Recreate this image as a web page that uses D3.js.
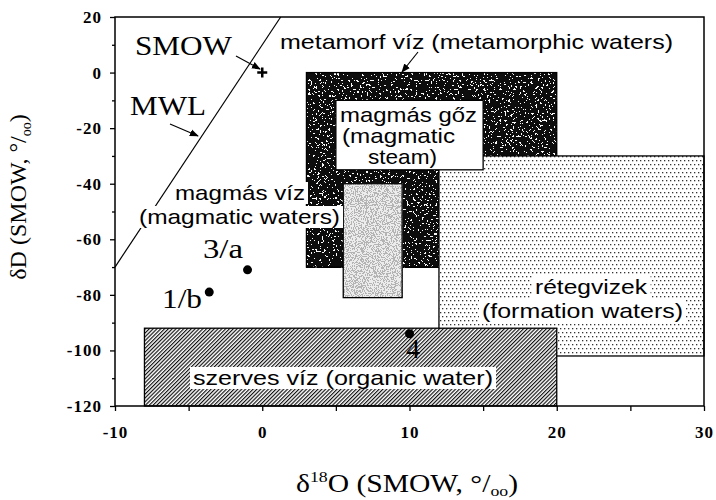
<!DOCTYPE html>
<html><head><meta charset="utf-8">
<script src="https://cdn.jsdelivr.net/npm/d3@7"></script>
<style>body{margin:0;background:#fff}</style>
</head><body>
<svg id="c" width="716" height="500" xmlns="http://www.w3.org/2000/svg"></svg>
<script>
// ---------- data ----------
const boxNames = ["metamorphic", "formation", "organic", "magmaticWater", "magmaticSteam"];
const boxX0 = [3, 12, -8, 5.5, 5];
const boxX1 = [20, 30, 20, 9.5, 15];
const boxY0 = [-70, -102, -120, -81, -35];
const boxY1 = [0, -30, -92, -40, -10];

const mwlX = [-10, 1.25];
const mwlY = [-70, 20];

const smowX = [0];
const smowY = [0];

const ptX = [-1, -3.6, 10];
const ptY = [-71, -79, -94];
const ptLabels = ["3/a", "1/b", "4"];

const xTicks = [-10, 0, 10, 20, 30];
const xTickLabels = ["-10", "0", "10", "20", "30"];
const xMinorTicks = [-5, 5, 15, 25];
const yTicks = [20, 0, -20, -40, -60, -80, -100, -120];
const yTickLabels = ["20", "0", "-20", "-40", "-60", "-80", "-100", "-120"];
const yMinorTicks = [10, -10, -30, -50, -70, -90, -110];

const sansLabels = ["metamorf víz (metamorphic waters)", "magmás gőz", "(magmatic", "steam)",
  "magmás víz", "(magmatic waters)", "rétegvizek", "(formation waters)", "szerves víz (organic water)"];
const serifLabels = ["SMOW", "MWL"];

// ---------- layout ----------
const svg = d3.select("#c");
const x = d3.scaleLinear().domain([-10, 30]).range([115, 704]);
const y = d3.scaleLinear().domain([-120, 20]).range([406, 17]);
const SERIF = "'Liberation Serif','Times New Roman',serif";
const SANS = "'Liberation Sans',Arial,Helvetica,sans-serif";

const defs = svg.append("defs");
// dark speckled texture
defs.append("filter").attr("id", "fDark").attr("x", 0).attr("y", 0).attr("width", 1).attr("height", 1)
  .html(`<feTurbulence type="fractalNoise" baseFrequency="0.45" numOctaves="3" seed="7" result="t"/>
  <feColorMatrix in="t" type="matrix" values="0 0 0 0 1  0 0 0 0 1  0 0 0 0 1  -6 0 0 0 2.58" result="w"/>
  <feComponentTransfer in="w" result="s"><feFuncA type="discrete" tableValues="0 0.95"/></feComponentTransfer>
  <feFlood flood-color="#0d0d0d" result="b"/>
  <feComposite in="s" in2="b" operator="over"/>`);
// light mottled texture
defs.append("filter").attr("id", "fLight").attr("x", 0).attr("y", 0).attr("width", 1).attr("height", 1)
  .html(`<feTurbulence type="fractalNoise" baseFrequency="0.9" numOctaves="3" seed="3" result="t"/>
  <feColorMatrix in="t" type="matrix" values="0 0 0 0 0.2  0 0 0 0 0.2  0 0 0 0 0.2  5 0 0 0 -2.1" result="w"/>
  <feComponentTransfer in="w" result="s"><feFuncA type="discrete" tableValues="0 0.6"/></feComponentTransfer>
  <feFlood flood-color="#ececec" result="b"/>
  <feComposite in="s" in2="b" operator="over"/>`);
// dots
const pd = defs.append("pattern").attr("id", "pDots").attr("patternUnits", "userSpaceOnUse")
  .attr("width", 4).attr("height", 8);
pd.append("rect").attr("width", 4).attr("height", 8).attr("fill", "#fff");
pd.append("rect").attr("x", 0).attr("y", 0).attr("width", 1.3).attr("height", 1.3).attr("fill", "#333");
pd.append("rect").attr("x", 2).attr("y", 4).attr("width", 1.3).attr("height", 1.3).attr("fill", "#333");
// hatch
const ph = defs.append("pattern").attr("id", "pHatch").attr("patternUnits", "userSpaceOnUse")
  .attr("width", 2.7).attr("height", 10).attr("patternTransform", "rotate(45)");
ph.append("rect").attr("width", 2.7).attr("height", 10).attr("fill", "#fff");
ph.append("line").attr("x1", 0.6).attr("x2", 0.6).attr("y1", 0).attr("y2", 10)
  .attr("stroke", "#000").attr("stroke-width", 1.1);
// arrowhead
defs.append("marker").attr("id", "arr").attr("viewBox", "0 0 10 10").attr("refX", 9).attr("refY", 5)
  .attr("markerWidth", 9).attr("markerHeight", 9).attr("markerUnits", "userSpaceOnUse").attr("orient", "auto")
  .append("path").attr("d", "M0,1 L10,5 L0,9 Z").attr("fill", "#000");

// plot background
svg.append("rect").attr("x", x(-10)).attr("y", y(20)).attr("width", x(30) - x(-10)).attr("height", y(-120) - y(20))
  .attr("fill", "#fff");

// MWL line
svg.append("line").attr("x1", x(mwlX[0])).attr("y1", y(mwlY[0])).attr("x2", x(mwlX[1])).attr("y2", y(mwlY[1]))
  .attr("stroke", "#000").attr("stroke-width", 1.2);

// boxes
const fills = {metamorphic: "url(#fDark)", formation: "url(#pDots)", organic: "url(#pHatch)",
  magmaticWater: "url(#fLight)", magmaticSteam: "#fff"};
boxNames.forEach((n, i) => {
  const bx = x(boxX0[i]), by = y(boxY1[i]), bw = x(boxX1[i]) - x(boxX0[i]), bh = y(boxY0[i]) - y(boxY1[i]);
  const r = svg.append("rect").attr("x", bx).attr("y", by).attr("width", bw).attr("height", bh);
  if (fills[n].startsWith("url(#f")) r.attr("fill", "#000").attr("filter", fills[n]);
  else r.attr("fill", fills[n]);
  svg.append("rect").attr("x", bx).attr("y", by).attr("width", bw).attr("height", bh)
    .attr("fill", "none").attr("stroke", "#000").attr("stroke-width", 1.3);
});

// label helper
function label(txt, px, py, len, font, size, bg, anchor) {
  const t = svg.append("text").attr("x", px).attr("y", py).attr("font-family", font)
    .attr("font-size", size).attr("fill", "#000").text(txt);
  if (anchor) t.attr("text-anchor", anchor);
  if (len) t.attr("textLength", len).attr("lengthAdjust", "spacingAndGlyphs");
  if (bg) {
    const b = t.node().getBBox();
    svg.insert("rect", () => t.node()).attr("x", b.x - 3).attr("y", b.y + 1).attr("width", b.width + 6)
      .attr("height", b.height - 1).attr("fill", "#fff");
  }
  return t;
}

// sans labels (positions: [x, baseline, length, withBackground])
const sansPos = [[280, 49, 393, false], [340, 122, 137, false], [342, 143, 113, false], [368, 164, 69, false],
  [175, 200, 130, true], [139, 224, 201, true], [535, 294, 112, true], [482, 318, 201, true], [193, 385, 300, true]];
sansLabels.forEach((s, i) => label(s, sansPos[i][0], sansPos[i][1], sansPos[i][2], SANS, 21, sansPos[i][3]));

// serif labels
const serifPos = [[135, 55, 97], [130, 115, 76]];
serifLabels.forEach((s, i) => label(s, serifPos[i][0], serifPos[i][1], serifPos[i][2], SERIF, 27, false));

// arrows
const arrows = [[236, 56, 260, 69], [170, 124, 198, 136], [418, 52, 402, 72]];
arrows.forEach(a => svg.append("line").attr("x1", a[0]).attr("y1", a[1]).attr("x2", a[2]).attr("y2", a[3])
  .attr("stroke", "#000").attr("stroke-width", 1.2).attr("marker-end", "url(#arr)"));

// SMOW cross
smowX.forEach((v, i) => {
  const cx = x(v), cy = y(smowY[i]);
  svg.append("path").attr("d", `M${cx - 5},${cy} H${cx + 5} M${cx},${cy - 5} V${cy + 5}`)
    .attr("stroke", "#000").attr("stroke-width", 2.5);
});

// points
svg.selectAll("circle.pt").data(ptX).enter().append("circle").attr("class", "pt")
  .attr("cx", (d) => x(d)).attr("cy", (d, i) => y(ptY[i])).attr("r", 4.5).attr("fill", "#000");
const ptLabelPos = [[203, 258, "start", 40], [162, 308, "start", 40], [413, 358, "middle", null]];
ptLabels.forEach((s, i) => label(s, ptLabelPos[i][0], ptLabelPos[i][1], ptLabelPos[i][3], SERIF, 28, false, ptLabelPos[i][2]));

// frame
svg.append("rect").attr("x", x(-10)).attr("y", y(20)).attr("width", x(30) - x(-10)).attr("height", y(-120) - y(20))
  .attr("fill", "none").attr("stroke", "#000").attr("stroke-width", 1.5);

// axes
function styleAxis(g) {
  g.select(".domain").remove();
  g.selectAll("line").attr("stroke", "#000").attr("stroke-width", 1.3);
  g.selectAll("text").attr("font-family", SERIF).attr("font-weight", "bold").attr("font-size", 17)
    .attr("letter-spacing", 1).attr("fill", "#000");
}
const gx = svg.append("g").attr("transform", `translate(0,${y(-120)})`)
  .call(d3.axisBottom(x).tickValues(xTicks).tickSize(5).tickSizeOuter(0).tickFormat((d, i) => xTickLabels[i]));
styleAxis(gx);
gx.selectAll("text").attr("y", 20);
const gxm = svg.append("g").attr("transform", `translate(0,${y(-120)})`)
  .call(d3.axisBottom(x).tickValues(xMinorTicks).tickSize(5).tickSizeOuter(0).tickFormat(""));
styleAxis(gxm);
const gy = svg.append("g").attr("transform", `translate(${x(-10)},0)`)
  .call(d3.axisLeft(y).tickValues(yTicks).tickSize(5).tickPadding(8).tickSizeOuter(0).tickFormat((d, i) => yTickLabels[i]));
styleAxis(gy);
const gym = svg.append("g").attr("transform", `translate(${x(-10)},0)`)
  .call(d3.axisLeft(y).tickValues(yMinorTicks).tickSize(3).tickSizeOuter(0).tickFormat(""));
styleAxis(gym);

// axis titles
const xt = svg.append("text").attr("x", 296).attr("y", 492)
  .attr("font-family", SERIF).attr("font-size", 25).attr("fill", "#000")
  .attr("textLength", 222).attr("lengthAdjust", "spacingAndGlyphs");
xt.append("tspan").text("δ");
xt.append("tspan").attr("font-size", 15).attr("dy", -10).text("18");
xt.append("tspan").attr("dy", 10).text("O (SMOW, °/");
xt.append("tspan").attr("font-size", 15).attr("dy", 4).text("oo");
xt.append("tspan").attr("dy", -4).text(")");

const yt = svg.append("text").attr("transform", "translate(26,197) rotate(-90)").attr("text-anchor", "middle")
  .attr("font-family", SERIF).attr("font-size", 24).attr("fill", "#000");
yt.append("tspan").text("δD (SMOW, °/");
yt.append("tspan").attr("font-size", 14).attr("dy", 5).text("oo");
yt.append("tspan").attr("dy", -5).text(")");
</script>
</body></html>
